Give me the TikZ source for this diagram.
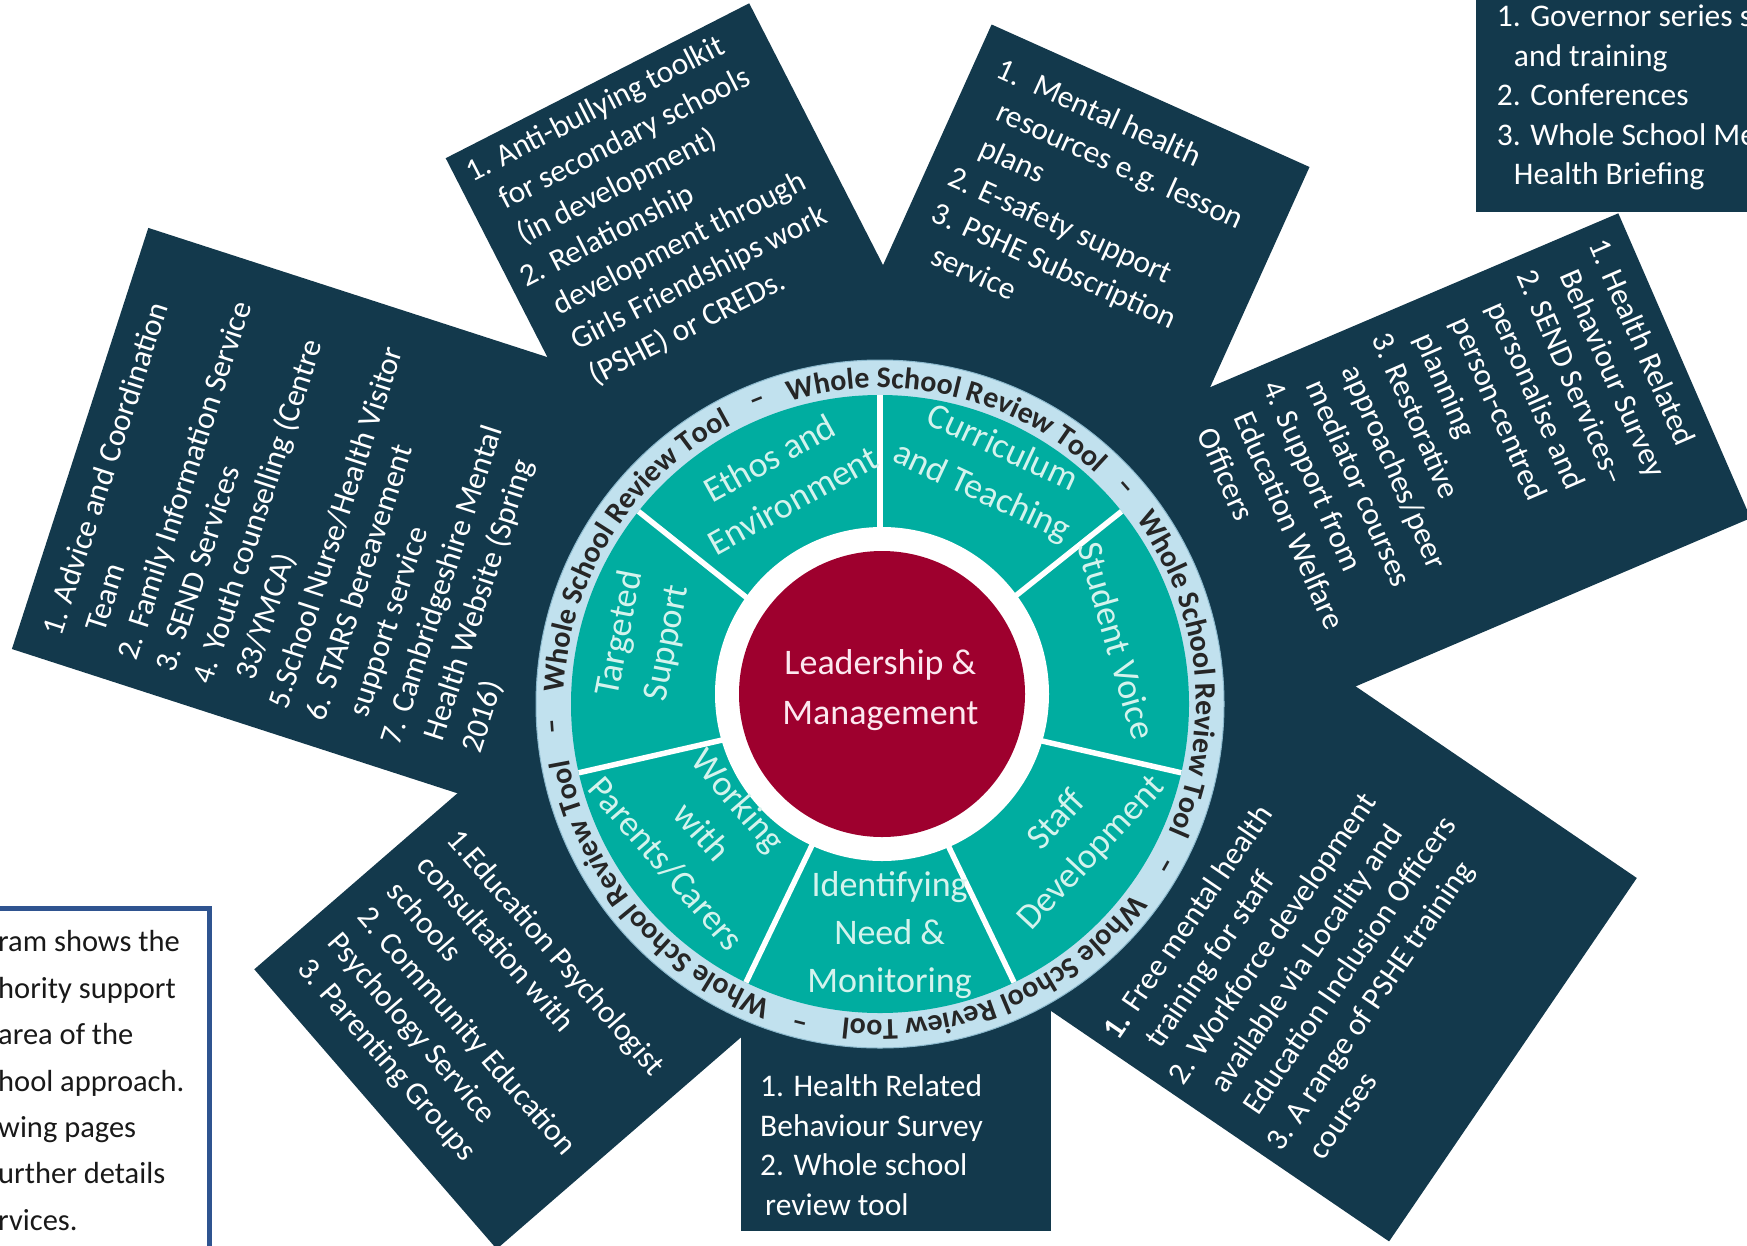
\documentclass[tikz,border=0pt]{standalone}
\usepackage{fontspec}
\setmainfont{Carlito}
\usetikzlibrary{decorations.text}
\definecolor{wsNavy}{RGB}{19,57,76}
\definecolor{wsTeal}{RGB}{0,173,160}
\definecolor{wsRed}{RGB}{158,0,46}
\definecolor{wsRing}{RGB}{193,225,238}
\definecolor{wsRingEdge}{RGB}{140,185,205}
\definecolor{wsSegText}{RGB}{212,243,237}
\definecolor{wsCentreText}{RGB}{252,232,240}
\definecolor{wsBorder}{RGB}{47,84,144}
\newcommand{\wsind}{\hspace*{17pt}}
\tikzset{
  navybox/.style={fill=wsNavy},
  boxtext/.style={text=white, inner sep=0pt, anchor=north west, align=left, font=\fontsize{31.5}{39.5}\selectfont},
  seglabel/.style={text=wsSegText, inner sep=0pt, align=center, font=\fontsize{36}{48}\selectfont},
  divider/.style={white, line width=5.5pt},
  ringdash/.style={inner sep=0pt, text=black!85, font=\bfseries\fontsize{30}{30}\selectfont},
  ringtext/.style={decorate, decoration={text along path, text align=center, text color=black!85,
    text={|\bfseries\fontsize{30}{30}\selectfont|Whole School Review Tool}}},
}
\begin{document}
\begin{tikzpicture}[x=1pt,y=1pt]
\path[use as bounding box] (0,0) rectangle (1747,-1245);
\begin{scope}
\clip (0,0) rectangle (1747,-1245);
% ---- dark boxes ----
\fill[navybox] (445.7,-158.2) -- (749.2,-3.3) -- (1022.2,-537.3) -- (718.7,-692.2) -- cycle;
\fill[navybox] (991.6,-24.5) -- (1309.5,-167) -- (1062.9,-713.6) -- (745,-571.1) -- cycle;
\fill[navybox] (1618.3,-213.3) -- (1750.6,-518.1) -- (1106.6,-792.5) -- (974.3,-487.7) -- cycle;
\fill[navybox] (1476,10) rectangle (1760,-211.7);
\fill[navybox] (1636.8,-878) -- (1389.1,-1241.4) -- (852.2,-875.4) -- (1099.9,-512) -- cycle;
\fill[navybox] (741,-700) rectangle (1050.7,-1231);
\fill[navybox] (254.3,-969.3) -- (496.7,-1249) -- (874.7,-921.5) -- (632.3,-641.8) -- cycle;
\fill[navybox] (148.3,-227.9) -- (11.9,-649) -- (725.2,-880) -- (861.6,-458.9) -- cycle;
% ---- wheel (outer part) ----
\begin{scope}[shift={(880,-704)}]
\fill[wsRing] (0,0) circle[radius=344];
\draw[wsRingEdge, line width=1pt] (0,0) circle[radius=344];
\fill[wsTeal] (0,0) circle[radius=309];
\foreach \a in {90,141.43,192.86,244.29,295.71,347.14,398.57}
  \draw[divider] (\a:150) -- (\a:309);
\path[ringtext] (184:316) arc[start angle=184, end angle=112, radius=316];
\path[ringtext] (112:316) arc[start angle=112, end angle=41.5, radius=316];
\path[ringtext] (41.5:316) arc[start angle=41.5, end angle=-29.5, radius=316];
\path[ringtext] (-29.5:316) arc[start angle=-29.5, end angle=-104, radius=316];
\path[ringtext] (-104:316) arc[start angle=-104, end angle=-176, radius=316];
\node[ringdash, rotate=94] (dash1) at (184:325) {–};
\node[ringdash, rotate=22] (dash2) at (112:325) {–};
\node[ringdash, rotate=-48.5] (dash3) at (41.5:325) {–};
\node[ringdash, rotate=-119.5] (dash4) at (-29.5:325) {–};
\node[ringdash, rotate=-194] (dash5) at (-104:325) {–};
\end{scope}
% ---- wheel (inner part) ----
\begin{scope}[shift={(882,-694)}]
\fill[white] (0,0) circle[radius=167];
\fill[wsRed] (0,0) circle[radius=143];
\end{scope}
% ---- segment labels ----
\node[seglabel, rotate=29] (lblEthos) at (781,-479) {Ethos and\\Environment};
\node[seglabel, rotate=-25] (lblCurr) at (991.8,-470.9) {Curriculum\\and Teaching};
\node[seglabel, rotate=-74] (lblVoice) at (1117,-640.7) {Student Voice};
\node[seglabel, rotate=47] (lblStaff) at (1074.4,-837) {Staff\\Development};
\node[seglabel] (lblNeed) at (889.6,-934.6) {Identifying\\Need \&\\Monitoring};
\node[seglabel, rotate=-49] (lblParents) at (702,-832) {Working\\with\\Parents/Carers};
\node[seglabel, rotate=79] (lblTarget) at (644,-638.4) {Targeted\\Support};
\node[seglabel, text=wsCentreText, font=\fontsize{36}{50}\selectfont] (lblLead) at (880.4,-690) {Leadership \&\\Management};
% ---- box texts ----
\node[boxtext, rotate=27.1] (txtA) at (459.6,-157.7) {\strut 1. Anti-bullying toolkit\\\wsind for secondary schools\\\wsind (in development)\\2. Relationship\\\wsind development through\\\wsind Girls Friendships work\\\wsind (PSHE) or CREDs.};
\node[boxtext, rotate=-24.3] (txtB) at (1006.2,-51.1) {\strut 1.\hspace{0.5em}Mental health\\\wsind resources e.g. lesson\\\wsind plans\\2. E-safety support\\3. PSHE Subscription\\\wsind service};
\node[boxtext, rotate=-66.5] (txtC) at (1614,-233.1) {\strut 1. Health Related\\\wsind Behaviour Survey\\2. SEND Services–\\\wsind personalise and\\\wsind person-centred\\\wsind planning\\3. Restorative\\\wsind approaches/peer\\\wsind mediator courses\\4. Support from\\\wsind Education Welfare\\\wsind Officers};
\node[boxtext] (txtD) at (1496.7,1.3) {\strut 1. Governor series s\\\wsind and training\\2. Conferences\\3. Whole School Me\\\wsind Health Briefing};
\node[boxtext, rotate=55.7] (txtE) at (1095,-1026) {\strut\textbf{1.} Free mental health\\\wsind training for staff\\2. Workforce development\\\wsind available via Locality and\\\wsind Education Inclusion Officers\\3. A range of PSHE training\\\wsind courses};
\node[boxtext] (txtF) at (760,-1068.7) {\strut 1. Health Related\\Behaviour Survey\\2. Whole school\\\hspace*{5pt}review tool};
\node[boxtext, rotate=-49.1] (txtG) at (466.6,-822) {\strut 1.Education Psychologist\\consultation with\\schools\\2. Community Education\\Psychology Service\\3. Parenting Groups};
\node[boxtext, rotate=72.05] (txtH) at (35,-628.6) {\strut 1. Advice and Coordination\\\wsind Team\\2. Family Information Service\\3. SEND Services\\4. Youth counselling (Centre\\\wsind 33/YMCA)\\5.School Nurse/Health Visitor\\6. STARS bereavement\\\wsind support service\\7. Cambridgeshire Mental\\\wsind Health Website (Spring\\\wsind 2016)};
% ---- explanatory text box ----
\draw[wsBorder, line width=4.5pt, fill=white] (-10,-908.3) rectangle (209.5,-1260);
\node[anchor=north west, inner sep=0pt, align=left, text=black!90, font=\fontsize{30.5}{46.4}\selectfont] (txtI) at (-2,-919.2) {\strut ram shows the\\hority support\\area of the\\hool approach.\\wing pages\\urther details\\rvices.};
\end{scope}
\end{tikzpicture}
\end{document}
